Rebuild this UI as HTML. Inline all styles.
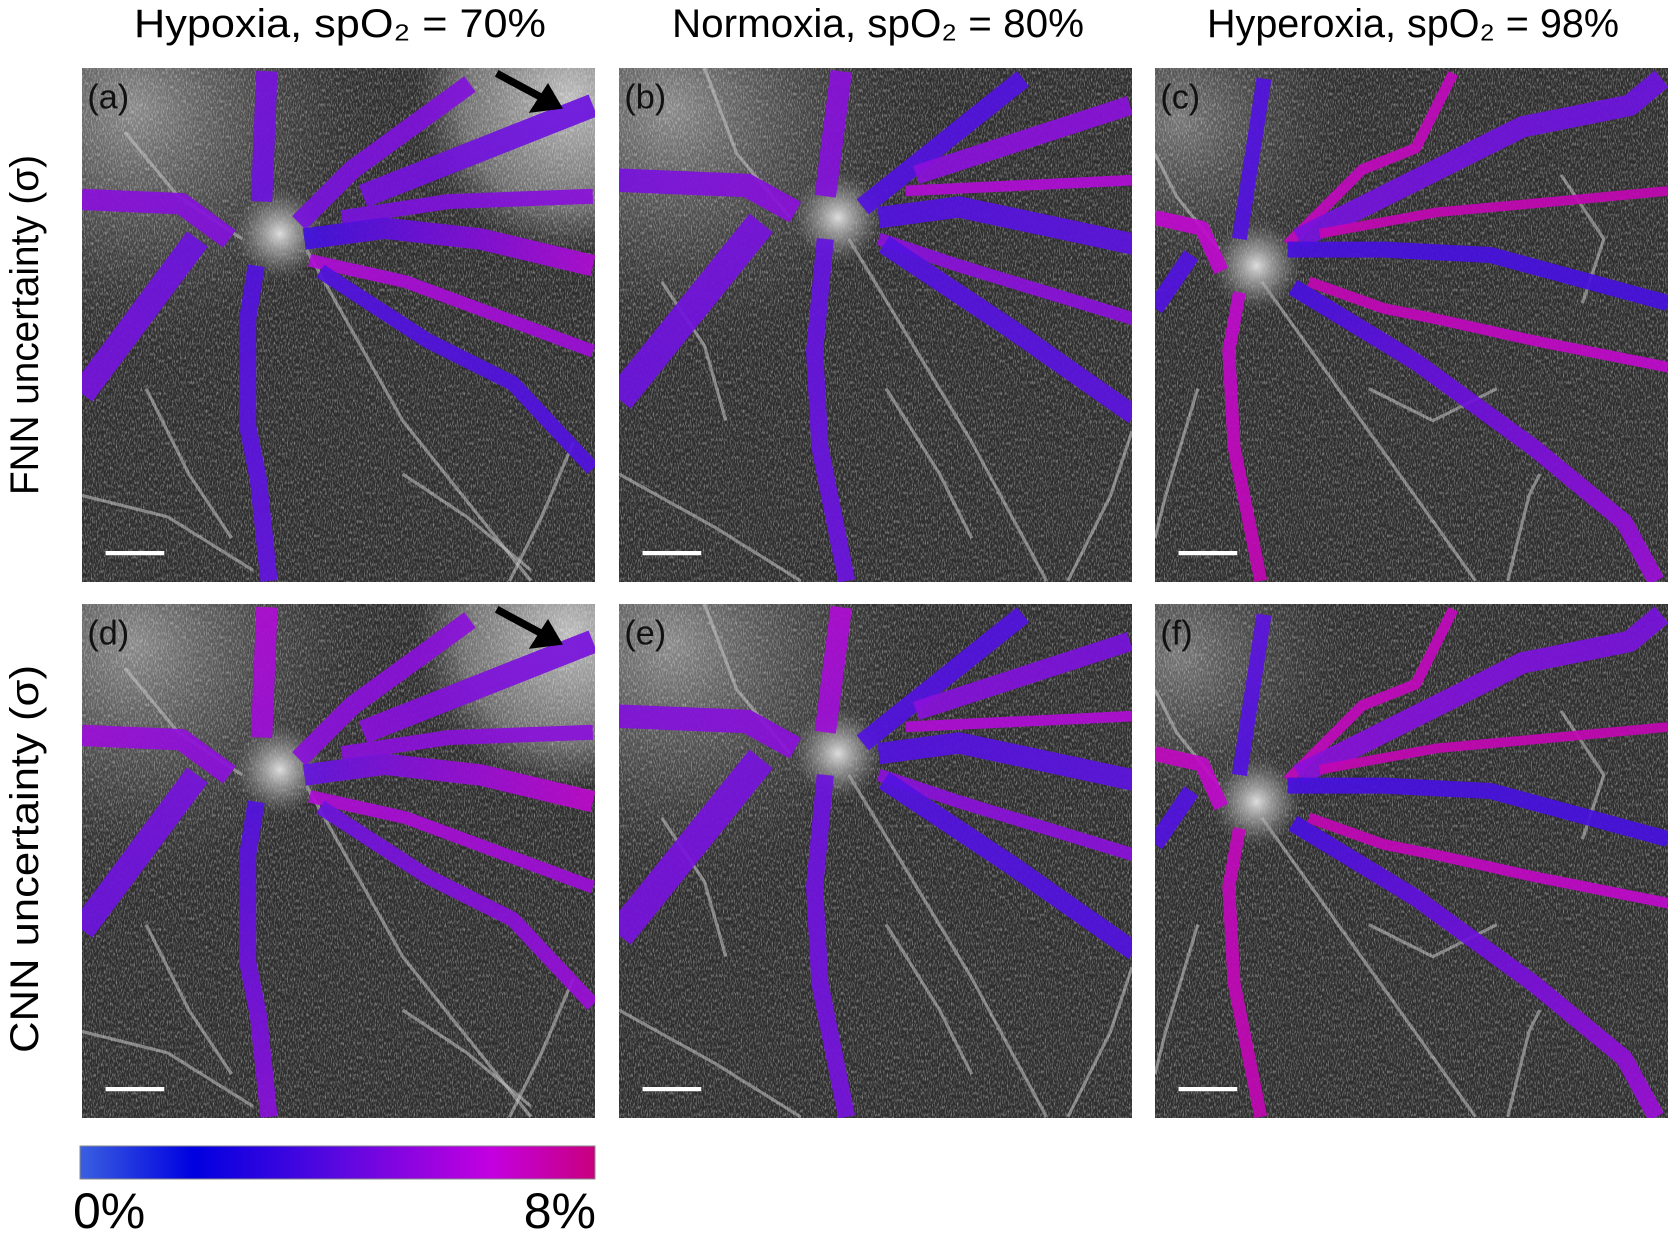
<!DOCTYPE html>
<html><head><meta charset="utf-8">
<style>
html,body{margin:0;padding:0;background:#fff;}
body{width:1668px;height:1243px;position:relative;overflow:hidden;font-family:"Liberation Sans",sans-serif;}
svg{position:absolute;left:0;top:0;}
</style></head>
<body>
<svg id="fig" width="1668" height="1243" viewBox="0 0 1668 1243">
<defs>
  <filter id="noise" x="0" y="0" width="100%" height="100%">
    <feTurbulence type="fractalNoise" baseFrequency="0.9 0.3" numOctaves="2" seed="3" result="t"/>
    <feColorMatrix type="matrix" values="0 0 0 0 1  0 0 0 0 1  0 0 0 0 1  0 0 0 1.8 -0.8"/>
  </filter>
  <radialGradient id="hazeTL" cx="0.1" cy="0.08" r="0.5">
    <stop offset="0" stop-color="#8a8a8a"/>
    <stop offset="0.6" stop-color="#555" stop-opacity="0.45"/>
    <stop offset="1" stop-color="#333" stop-opacity="0"/>
  </radialGradient>
  <radialGradient id="hazeTLs" cx="0.05" cy="0.1" r="0.35">
    <stop offset="0" stop-color="#777"/>
    <stop offset="1" stop-color="#333" stop-opacity="0"/>
  </radialGradient>
  <radialGradient id="hazeTR" cx="0.95" cy="0.06" r="0.3">
    <stop offset="0" stop-color="#bdbdbd"/>
    <stop offset="0.7" stop-color="#999" stop-opacity="0.6"/>
    <stop offset="1" stop-color="#777" stop-opacity="0"/>
  </radialGradient>
  <radialGradient id="disc" cx="0.5" cy="0.5" r="0.5">
    <stop offset="0" stop-color="#ddd"/>
    <stop offset="0.5" stop-color="#aaa" stop-opacity="0.6"/>
    <stop offset="1" stop-color="#888" stop-opacity="0"/>
  </radialGradient>
  <linearGradient id="cbar" x1="0" x2="1" y1="0" y2="0">
    <stop offset="0" stop-color="#3a60e0"/>
    <stop offset="0.22" stop-color="#0000e0"/>
    <stop offset="0.5" stop-color="#5a08e0"/>
    <stop offset="0.8" stop-color="#c400e0"/>
    <stop offset="1" stop-color="#c8007e"/>
  </linearGradient>
</defs>
<g id="titles"></g>
<g id="panels"></g>
<g id="colorbar">
  <rect x="80" y="1146" width="515" height="33" fill="url(#cbar)" stroke="#888" stroke-width="1"/>
  <text x="73" y="1228" font-size="50" fill="#000">0%</text>
  <text x="596" y="1228" font-size="50" fill="#000" text-anchor="end">8%</text>
</g>
</svg>
<script>
const colX = [82, 619, 1155];
const rowY = [68, 604];
const colTitles = ["Hypoxia, spO\u2082 = 70%", "Normoxia, spO\u2082 = 80%", "Hyperoxia, spO\u2082 = 98%"];
const rowTitles = ["FNN uncertainty (\u03c3)", "CNN uncertainty (\u03c3)"];
const panelLetters = [["(a)","(b)","(c)"],["(d)","(e)","(f)"]];
const discs = [[185,155],[205,140],[95,185]];
const vessels = [
 [
  {p:[[173,3],[168,125]],w:20},
  {p:[[0,123],[93,127],[138,160]],w:20},
  {p:[[108,160],[0,305]],w:24},
  {p:[[163,185],[155,235],[155,335],[165,385],[175,480]],w:16},
  {p:[[203,145],[253,95],[363,15]],w:18},
  {p:[[263,120],[478,35]],w:22},
  {p:[[243,140],[343,125],[478,120]],w:14},
  {p:[[208,160],[283,150],[373,160],[478,185]],w:20},
  {p:[[213,180],[303,200],[478,265]],w:12},
  {p:[[223,190],[323,255],[403,295],[478,375]],w:14}
 ],
 [
  {p:[[208,3],[193,120]],w:20},
  {p:[[0,105],[120,110],[165,135]],w:22},
  {p:[[133,145],[0,310]],w:28},
  {p:[[193,160],[183,265],[188,355],[213,480]],w:16},
  {p:[[228,130],[378,10]],w:18},
  {p:[[278,100],[478,35]],w:18},
  {p:[[268,115],[480,105]],w:10},
  {p:[[243,140],[318,130],[482,165]],w:20},
  {p:[[243,160],[318,185],[482,235]],w:12},
  {p:[[248,165],[368,245],[482,325]],w:18}
 ],
 [
  {p:[[102,10],[79,160]],w:14},
  {p:[[0,140],[44,150],[62,190]],w:14},
  {p:[[34,175],[0,225]],w:16},
  {p:[[79,210],[69,265],[74,355],[99,480]],w:12},
  {p:[[124,165],[194,95],[244,75],[279,5]],w:10},
  {p:[[134,160],[344,55],[444,35],[474,10]],w:20},
  {p:[[154,155],[264,135],[374,125],[480,115]],w:9},
  {p:[[124,170],[214,170],[314,175],[480,220]],w:15},
  {p:[[144,200],[214,225],[264,235],[354,255],[480,280]],w:10},
  {p:[[129,205],[244,275],[354,355],[439,425],[469,480]],w:16}
 ]
];
const uncStart = [
 [[4.5,5,4.2,3.5,4.5,4.5,4.5,3,6,3.5],[5,4.5,4.5,4,3.5,5,6,3.5,5,3.5],[3.5,6.5,3.5,6.5,6.8,4.5,7,3.2,7,3.2]],
 [[6,5.5,4.5,3.5,5,5,5,4,6,4.2],[6,4.8,4.5,4.2,3.5,5,6,3.5,5,3.5],[3.8,6.8,3.5,6.8,6.8,5,7,3.2,7,3.2]]
];
const uncEnd = [
 [[4.2,4.8,4.5,4,4.8,4.2,5,6,5.5,3.5],[4.8,5,4.2,4.2,3.5,5,6,3.8,5,3.8],[3.5,6.5,3.5,7,6.8,4.2,7,3.2,6.5,5.5]],
 [[5.5,5,4.2,5,5,4.5,5,6.5,5.5,5.5],[5.5,5,4.5,4.5,3.5,4.5,6,3.8,5,3.5],[3.5,6.5,3.5,7,6.8,4.5,7,3.2,6.5,5.5]]
];
const bgVessels = [
 [[[210,170],[300,330],[420,480]],[[150,160],[90,120],[40,60]],[[0,400],[80,420],[160,470]],[[400,480],[430,420],[460,350]],[[60,300],[100,380],[140,440]],[[300,380],[360,420],[420,470]]],
 [[[215,160],[330,350],[400,480]],[[160,140],[110,80],[80,0]],[[0,380],[90,430],[170,480]],[[420,480],[460,400],[480,340]],[[250,300],[300,380],[330,440]],[[40,200],[80,260],[100,330]]],
 [[[100,200],[200,340],[300,480]],[[60,170],[20,120],[0,80]],[[330,480],[350,400],[360,380]],[[40,300],[10,400],[0,440]],[[200,300],[260,330],[320,300]],[[380,100],[420,160],[400,220]]]
];

const NS = "http://www.w3.org/2000/svg";
function mk(tag, attrs, parent){
  const e = document.createElementNS(NS, tag);
  for (const k in attrs) e.setAttribute(k, attrs[k]);
  if (parent) parent.appendChild(e);
  return e;
}
function uColor(u){
  const stops = [[0,[58,96,224]],[0.22,[20,10,224]],[0.5,[100,20,224]],[0.8,[190,10,210]],[1,[200,0,126]]];
  const t = Math.max(0, Math.min(1, u/8));
  for (let i=1;i<stops.length;i++){
    if (t <= stops[i][0]){
      const a = stops[i-1], b = stops[i];
      const f = (t-a[0])/(b[0]-a[0]);
      const c = a[1].map((v,j)=>Math.round(v+(b[1][j]-v)*f));
      return `rgb(${c[0]},${c[1]},${c[2]})`;
    }
  }
  return "rgb(200,0,126)";
}

const titles = document.getElementById("titles");
const titleCx = [340, 878, 1413];
colTitles.forEach((t,i)=>{
  const e = mk("text",{x:titleCx[i], y:37, "font-size":40, "text-anchor":"middle", fill:"#000", textLength:412, lengthAdjust:"spacingAndGlyphs"}, titles);
  
  
  e.textContent = t;
});
const rowCy = [325, 859];
const rowLen = [340, 388];
rowTitles.forEach((t,i)=>{
  const e = mk("text",{x:0, y:0, "font-size":40, "text-anchor":"middle", fill:"#000",
    transform:`translate(38,${rowCy[i]}) rotate(-90)`, textLength:rowLen[i], lengthAdjust:"spacingAndGlyphs"}, titles);
  
  
  e.textContent = t;
});

const panels = document.getElementById("panels");
let gid = 0;
for (let r=0;r<2;r++){
  for (let c=0;c<3;c++){
    const svg = mk("svg",{x:colX[c], y:rowY[r], width:513, height:514, viewBox:"0 0 480 481", preserveAspectRatio:"none"}, panels);
    
    
    mk("rect",{x:0,y:0,width:480,height:481,fill:"#2e2e2e"}, svg);
    mk("rect",{x:0,y:0,width:480,height:481,fill: c===2 ? "url(#hazeTLs)" : "url(#hazeTL)"}, svg);
    if (c===0) mk("rect",{x:0,y:0,width:480,height:481,fill:"url(#hazeTR)"}, svg);
    mk("rect",{x:0,y:0,width:480,height:481,filter:"url(#noise)",opacity:0.6}, svg);
    bgVessels[c].forEach(pts=>{
      mk("polyline",{points:pts.map(p=>p.join(",")).join(" "), fill:"none", stroke:"#c8c8c8", "stroke-width":3, opacity:0.55}, svg);
    });
    const d = discs[c];
    mk("circle",{cx:d[0], cy:d[1], r:42, fill:"url(#disc)"}, svg);
    vessels[c].forEach((v,k)=>{
      const id = "vg"+(gid++);
      const a = v.p[0], b = v.p[v.p.length-1];
      const lg = mk("linearGradient",{id:id, gradientUnits:"userSpaceOnUse", x1:a[0], y1:a[1], x2:b[0], y2:b[1]}, svg);
      mk("stop",{offset:0,"stop-color":uColor(uncStart[r][c][k])}, lg);
      mk("stop",{offset:1,"stop-color":uColor(uncEnd[r][c][k])}, lg);
      const pl = mk("polyline",{points:v.p.map(p=>p.join(",")).join(" "), fill:"none", stroke:`url(#${id})`, "stroke-width":v.w, "stroke-linejoin":"round", "stroke-linecap":"butt", opacity:0.92}, svg);
      
      
    });
    const sb = mk("line",{x1:22,y1:454,x2:77,y2:454,stroke:"#fff","stroke-width":4}, svg);
    
    
    const lt = mk("text",{x:5,y:38,"font-size":32,fill:"#111"}, svg);
    
    
    lt.textContent = panelLetters[r][c];
    if (c===0){
      const ar = mk("g",{}, svg);
      
      
      mk("line",{x1:388,y1:5,x2:440,y2:33,stroke:"#000","stroke-width":7}, ar);
      mk("polygon",{points:"450,38 418,42 436,14",fill:"#000"}, ar);
    }
  }
}
</script>
</body></html>
